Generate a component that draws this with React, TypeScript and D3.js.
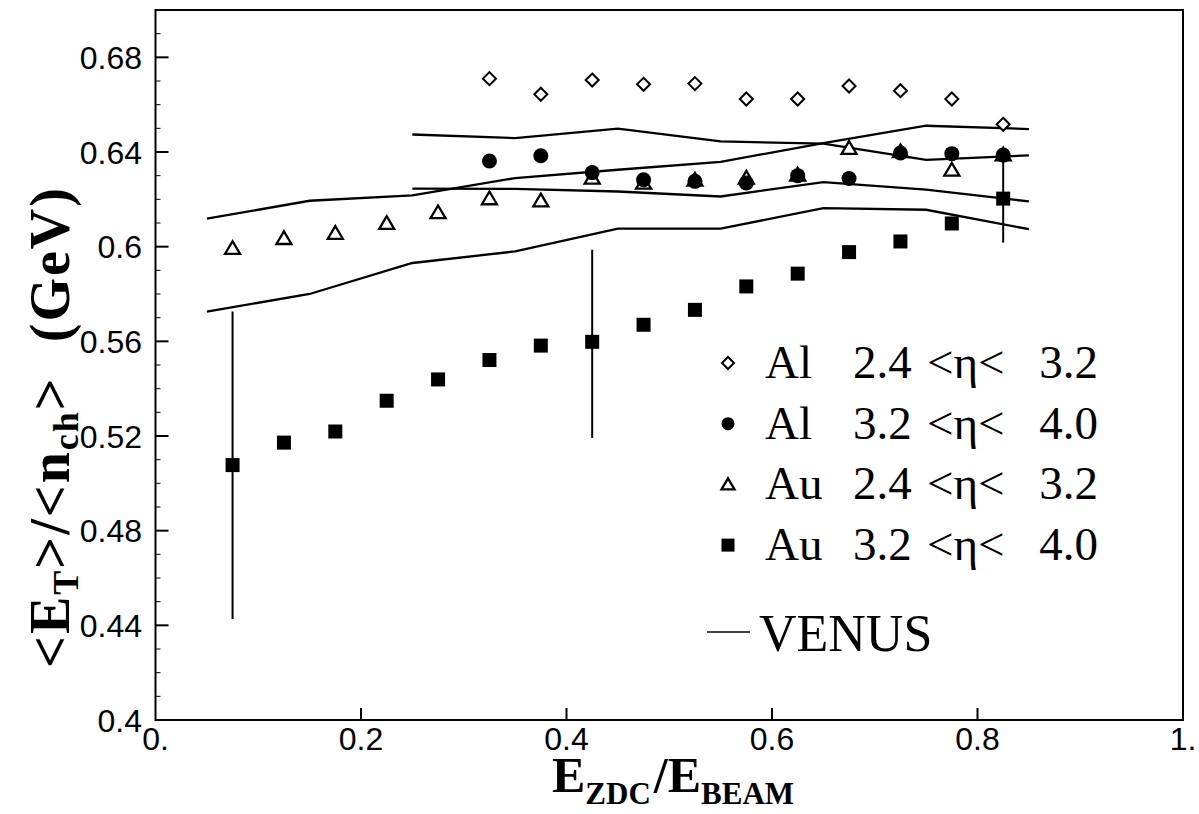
import React from 'react';
import * as d3 from 'd3';

// ---------- data ----------
const auX = [0.075, 0.125, 0.175, 0.225, 0.275, 0.325, 0.375, 0.425, 0.475, 0.525, 0.575, 0.625, 0.675, 0.725, 0.775, 0.825];
const alX = [0.325, 0.375, 0.425, 0.475, 0.525, 0.575, 0.625, 0.675, 0.725, 0.775, 0.825];

const alLow = [0.671, 0.6644, 0.6704, 0.6686, 0.6689, 0.6624, 0.6624, 0.6679, 0.6659, 0.6624, 0.6517];
const alHigh = [0.6362, 0.6384, 0.6313, 0.6283, 0.6276, 0.6269, 0.63, 0.6288, 0.6396, 0.6393, 0.6387];
const auLow = [0.5994, 0.6036, 0.6058, 0.61, 0.6145, 0.6204, 0.6195, 0.6291, 0.627, 0.6283, 0.6291, 0.6304, 0.6417, 0.6403, 0.6325, 0.6389];
const auHigh = [0.5077, 0.5172, 0.5219, 0.5349, 0.5439, 0.5521, 0.5582, 0.5598, 0.567, 0.5733, 0.5832, 0.5886, 0.5977, 0.6022, 0.6098, 0.6203];

const errX = [0.075, 0.425, 0.825];
const errLo = [0.4427, 0.5192, 0.6017];
const errHi = [0.5726, 0.5987, 0.638];

const venusXLong = [0.05, 0.15, 0.25, 0.35, 0.45, 0.55, 0.65, 0.75, 0.85];
const venusXShort = [0.25, 0.35, 0.45, 0.55, 0.65, 0.75, 0.85];
const venusA = [0.6474, 0.6459, 0.6499, 0.6445, 0.6435, 0.6367, 0.6386];
const venusB = [0.6118, 0.6194, 0.6217, 0.629, 0.6325, 0.6358, 0.6438, 0.6511, 0.6497];
const venusC = [0.6245, 0.6244, 0.6233, 0.6212, 0.6273, 0.6241, 0.6191];
const venusD = [0.5726, 0.58, 0.5931, 0.598, 0.6076, 0.6076, 0.6163, 0.6156, 0.6074];

const yTicks = [0.4, 0.44, 0.48, 0.52, 0.56, 0.6, 0.64, 0.68];
const yTickLabels = ['0.4', '0.44', '0.48', '0.52', '0.56', '0.6', '0.64', '0.68'];
const xTicks = [0, 0.2, 0.4, 0.6, 0.8, 1];
const xTickLabels = ['0.', '0.2', '0.4', '0.6', '0.8', '1.'];

const legendSymbols = ['diamond', 'circle', 'triangle', 'square'];
const legendMaterial = ['Al', 'Al', 'Au', 'Au'];
const legendLo = ['2.4', '3.2', '2.4', '3.2'];
const legendHi = ['3.2', '4.0', '3.2', '4.0'];

// ---------- layout ----------
const W = 1199;
const H = 814;
const x = d3.scaleLinear().domain([0, 1]).range([155.5, 1183]);
const y = d3.scaleLinear().domain([0.4, 0.7]).range([720, 10]);

const serif = '"Liberation Serif", "Times New Roman", serif';
const sans = '"Liberation Sans", Arial, sans-serif';

function Marker({ kind, cx, cy, s }: { kind: string; cx: number; cy: number; s: number }) {
  if (kind === 'diamond') {
    const h = s / 2;
    return <path d={`M${cx},${cy - h}L${cx + h},${cy}L${cx},${cy + h}L${cx - h},${cy}Z`} fill="white" stroke="black" strokeWidth={2} />;
  }
  if (kind === 'circle') return <circle cx={cx} cy={cy} r={s / 2} fill="black" />;
  if (kind === 'triangle') {
    const h = s * 0.78;
    return <path d={`M${cx},${cy - h / 2 - 1}L${cx + s / 2},${cy + h / 2}L${cx - s / 2},${cy + h / 2}Z`} fill="white" stroke="black" strokeWidth={2.3} strokeLinejoin="miter" />;
  }
  return <rect x={cx - s / 2} y={cy - s / 2} width={s} height={s} fill="black" />;
}

export default function App() {
  const line = d3.line<[number, number]>().x(d => x(d[0])).y(d => y(d[1]));
  const venus = [
    d3.zip(venusXShort, venusA),
    d3.zip(venusXLong, venusB),
    d3.zip(venusXShort, venusC),
    d3.zip(venusXLong, venusD),
  ] as [number, number][][];
  const minorTicks = d3.range(0.41, 0.70, 0.01).filter(v => Math.abs((v - 0.4) / 0.04 - Math.round((v - 0.4) / 0.04)) > 0.01);

  return (
    <svg width={W} height={H} style={{ position: 'absolute', left: 0, top: 0, background: 'white' }}>
      <rect x={0} y={0} width={W} height={H} fill="white" />
      {/* frame */}
      <rect x={x(0)} y={y(0.7)} width={x(1) - x(0)} height={y(0.4) - y(0.7)} fill="none" stroke="black" strokeWidth={2} />
      {/* y ticks */}
      {yTicks.map((t, i) => (
        <g key={'yt' + i}>
          <line x1={x(0)} x2={x(0) + 13} y1={y(t)} y2={y(t)} stroke="black" strokeWidth={2} />
          <text x={142} y={y(t)} dy="0.36em" textAnchor="end" fontFamily={sans} fontSize={32} fill="black">{yTickLabels[i]}</text>
        </g>
      ))}
      {minorTicks.map((t, i) => (
        <line key={'ym' + i} x1={x(0)} x2={x(0) + 5} y1={y(t)} y2={y(t)} stroke="black" strokeWidth={1} />
      ))}
      {/* x ticks */}
      {xTicks.map((t, i) => (
        <g key={'xt' + i}>
          {t > 0 && t < 1 && <line x1={x(t)} x2={x(t)} y1={y(0.4)} y2={y(0.4) - 12} stroke="black" strokeWidth={2} />}
          <text x={x(t)} y={750} textAnchor="middle" fontFamily={sans} fontSize={32} fill="black">{xTickLabels[i]}</text>
        </g>
      ))}
      {/* VENUS lines */}
      {venus.map((pts, i) => (
        <path key={'v' + i} d={line(pts) || ''} fill="none" stroke="black" strokeWidth={2.3} />
      ))}
      {/* error bars */}
      {errX.map((ex, i) => (
        <line key={'e' + i} x1={x(ex)} x2={x(ex)} y1={y(errLo[i])} y2={y(errHi[i])} stroke="black" strokeWidth={2} />
      ))}
      {/* markers */}
      {auX.map((px, i) => <Marker key={'aul' + i} kind="triangle" cx={x(px)} cy={y(auLow[i])} s={15} />)}
      {alX.map((px, i) => <Marker key={'alh' + i} kind="circle" cx={x(px)} cy={y(alHigh[i])} s={15} />)}
      {alX.map((px, i) => <Marker key={'all' + i} kind="diamond" cx={x(px)} cy={y(alLow[i])} s={13} />)}
      {auX.map((px, i) => <Marker key={'auh' + i} kind="square" cx={x(px)} cy={y(auHigh[i])} s={14} />)}
      {/* legend */}
      {legendSymbols.map((k, i) => {
        const cy = 363 + i * 60.7;
        const base = cy + 15;
        return (
          <g key={'lg' + i}>
            <Marker kind={k} cx={728} cy={cy} s={k === 'diamond' ? 12 : 13} />
            <text x={765} y={base} fontFamily={serif} fontSize={47} fill="black">{legendMaterial[i]}</text>
            <text x={853} y={base} fontFamily={serif} fontSize={47} fill="black">{legendLo[i]}</text>
            <text x={927} y={base} fontFamily={serif} fontSize={47} fill="black">{'<η<'}</text>
            <text x={1098} y={base} textAnchor="end" fontFamily={serif} fontSize={47} fill="black">{legendHi[i]}</text>
          </g>
        );
      })}
      <line x1={707} x2={750} y1={632} y2={632} stroke="black" strokeWidth={1.5} />
      <text x={759} y={651} fontFamily={serif} fontSize={52} fill="black">VENUS</text>
      {/* axis titles */}
      <text transform="translate(69,668) rotate(-90)" textAnchor="start" fontFamily={serif} fontWeight="bold" fontSize={56} letterSpacing={2} fill="black">
        {'<E'}<tspan dy={9} fontSize={36}>T</tspan><tspan dy={-9}>{'>/<n'}</tspan><tspan dy={9} fontSize={36}>ch</tspan><tspan dy={-9}>{'>'}</tspan><tspan dx={34}>(GeV)</tspan>
      </text>
      <text x={673} y={792} textAnchor="middle" fontFamily={serif} fontWeight="bold" fontSize={50} fill="black">
        {'E'}<tspan dy={12} fontSize={31}>ZDC</tspan><tspan dy={-12} dx={3}>/E</tspan><tspan dy={12} fontSize={31}>BEAM</tspan>
      </text>
    </svg>
  );
}
